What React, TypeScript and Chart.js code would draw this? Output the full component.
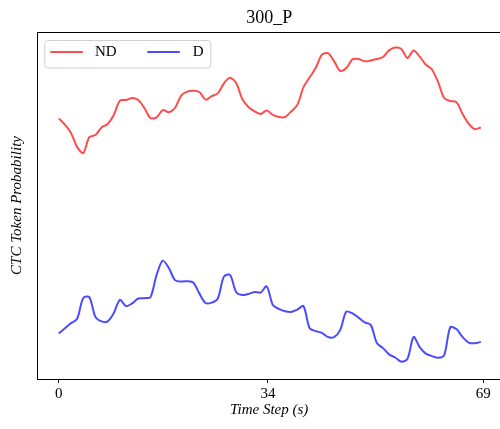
import React, { useEffect, useRef } from "react";
import { Chart, registerables } from "chart.js";

Chart.register(...registerables);

const TITLE = "300_P";
const SERIES_NAMES = ["ND", "D"];
const X_TICKS = [0, 34, 69];
const X_LABEL = "Time Step (s)";
const Y_LABEL = "CTC Token Probability";
const T_END = 68.6;

const ND_VALUES = [
  0.751, 0.733, 0.709, 0.669, 0.651, 0.697, 0.703, 0.725, 0.735, 0.761,
  0.802, 0.804, 0.81, 0.804, 0.781, 0.752, 0.754, 0.775, 0.769, 0.781,
  0.816, 0.828, 0.831, 0.827, 0.805, 0.815, 0.823, 0.852, 0.868, 0.853,
  0.807, 0.784, 0.771, 0.764, 0.774, 0.761, 0.755, 0.755, 0.771, 0.79,
  0.841, 0.869, 0.896, 0.934, 0.939, 0.916, 0.888, 0.896, 0.921, 0.922,
  0.916, 0.918, 0.922, 0.928, 0.947, 0.955, 0.951, 0.925, 0.947, 0.929,
  0.906, 0.892, 0.856, 0.81, 0.801, 0.798, 0.764, 0.736, 0.72, 0.725,
];

const D_VALUES = [
  0.131, 0.146, 0.161, 0.173, 0.233, 0.236, 0.179, 0.166, 0.166, 0.19,
  0.228, 0.21, 0.218, 0.232, 0.233, 0.236, 0.3, 0.341, 0.32, 0.285,
  0.281, 0.282, 0.278, 0.246, 0.219, 0.22, 0.232, 0.295, 0.3, 0.251,
  0.242, 0.245, 0.251, 0.249, 0.267, 0.213, 0.202, 0.195, 0.193, 0.2,
  0.21, 0.147, 0.138, 0.133, 0.121, 0.121, 0.141, 0.194, 0.189, 0.177,
  0.163, 0.156, 0.104, 0.089, 0.071, 0.062, 0.05, 0.058, 0.121, 0.092,
  0.073, 0.066, 0.061, 0.069, 0.149, 0.144, 0.121, 0.105, 0.103, 0.107,
];

const COLORS = ["rgba(255,0,0,0.7)", "rgba(0,0,255,0.7)"];
const FONT = "'Liberation Serif', 'Times New Roman', serif";

const toPoints = (vals: number[]) =>
  vals.map((v, i) => ({ x: (i * T_END) / (vals.length - 1), y: v }));

const framePlugin = {
  id: "frameAndLegend",
  afterDatasetsDraw(chart: any) {
    const { ctx, chartArea: a } = chart;
    ctx.save();
    ctx.strokeStyle = "#000";
    ctx.lineWidth = 1;
    ctx.beginPath();
    ctx.moveTo(a.left, a.top + 0.5);
    ctx.lineTo(a.right, a.top + 0.5);
    ctx.lineTo(a.right - 0.5, a.bottom);
    ctx.stroke();

    const bx = a.left + 7;
    const by = a.top + 8;
    const bw = 166;
    const bh = 27.5;
    ctx.beginPath();
    if ((ctx as any).roundRect) (ctx as any).roundRect(bx + 0.5, by + 0.5, bw, bh, 3);
    else ctx.rect(bx + 0.5, by + 0.5, bw, bh);
    ctx.fillStyle = "rgba(255,255,255,0.8)";
    ctx.fill();
    ctx.strokeStyle = "#d0d0d0";
    ctx.lineWidth = 1;
    ctx.stroke();

    const ly = by + 12;
    const entries = [
      { x0: bx + 6, x1: bx + 38.5, tx: bx + 50.7 },
      { x0: bx + 103, x1: bx + 135.5, tx: bx + 148.4 },
    ];
    ctx.font = `15px ${FONT}`;
    ctx.textBaseline = "middle";
    ctx.textAlign = "left";
    entries.forEach((e, i) => {
      ctx.strokeStyle = COLORS[i];
      ctx.lineWidth = 2;
      ctx.beginPath();
      ctx.moveTo(e.x0, ly);
      ctx.lineTo(e.x1, ly);
      ctx.stroke();
      ctx.fillStyle = "#000";
      ctx.fillText(SERIES_NAMES[i], e.tx, ly);
    });
    ctx.restore();
  },
};

export default function App() {
  const ref = useRef<HTMLCanvasElement | null>(null);
  useEffect(() => {
    if (!ref.current) return;
    const chart = new Chart(ref.current, {
      type: "line",
      data: {
        datasets: [
          {
            label: SERIES_NAMES[0],
            data: toPoints(ND_VALUES),
            borderColor: COLORS[0],
            borderWidth: 2,
            pointRadius: 0,
            tension: 0.3,
            fill: false,
          },
          {
            label: SERIES_NAMES[1],
            data: toPoints(D_VALUES),
            borderColor: COLORS[1],
            borderWidth: 2,
            pointRadius: 0,
            tension: 0.3,
            fill: false,
          },
        ],
      },
      options: {
        responsive: false,
        animation: false,
        layout: { padding: { left: 0, right: 1, top: 0, bottom: 0 } },
        plugins: {
          legend: { display: false },
          tooltip: { enabled: false },
          title: {
            display: true,
            fullSize: false,
            text: TITLE,
            color: "#000",
            font: { family: FONT, size: 18, weight: "normal" },
            padding: { top: 7.5, bottom: 2.9 },
          },
        },
        scales: {
          x: {
            type: "linear",
            min: -3.48,
            max: 71.87,
            afterBuildTicks: (s: any) => {
              s.ticks = X_TICKS.map((v) => ({ value: v }));
            },
            afterFit: (s: any) => {
              s.height = 50;
            },
            ticks: {
              color: "#000",
              font: { family: FONT, size: 15 },
              padding: 2,
              maxRotation: 0,
              autoSkip: false,
              callback: (v: any) => String(v),
            },
            grid: {
              display: true,
              drawOnChartArea: false,
              drawTicks: true,
              tickLength: 4,
              color: "#000",
            },
            border: { display: true, color: "#000", width: 1 },
            title: {
              display: true,
              text: X_LABEL,
              color: "#000",
              font: { family: FONT, size: 15, style: "italic" },
              padding: { top: 0, bottom: 10 },
            },
          },
          y: {
            type: "linear",
            min: 0,
            max: 1,
            afterFit: (s: any) => {
              s.width = 37.3;
            },
            ticks: { display: false },
            grid: { display: false },
            border: { display: true, color: "#000", width: 1 },
            title: {
              display: true,
              text: Y_LABEL,
              color: "#000",
              font: { family: FONT, size: 15, style: "italic" },
              padding: { top: 8, bottom: 0 },
            },
          },
        },
      },
      plugins: [framePlugin],
    } as any);
    return () => chart.destroy();
  }, []);

  return (
    <div style={{ position: "fixed", left: 0, top: 0, width: 502, height: 429, background: "#fff" }}>
      <canvas ref={ref} width={502} height={429} style={{ display: "block", width: 502, height: 429 }} />
    </div>
  );
}
